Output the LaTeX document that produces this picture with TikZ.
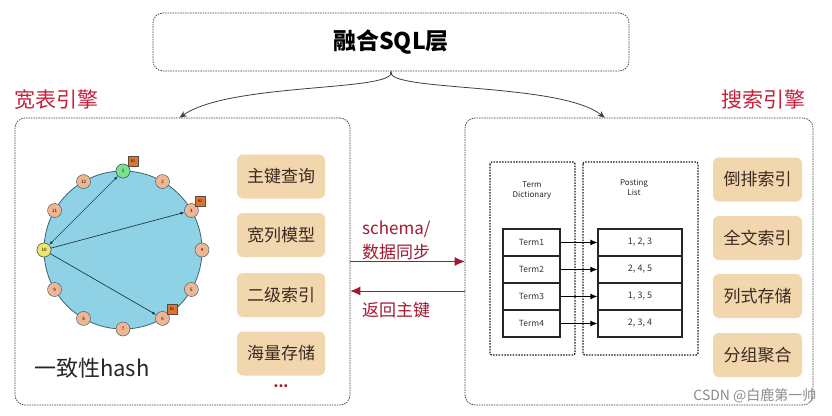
\documentclass[tikz,border=0pt]{standalone}
\usepackage{fontspec}
\setmainfont{Noto Sans CJK SC}
\usetikzlibrary{arrows.meta}
\definecolor{titlered}{HTML}{C8203C}
\definecolor{midred}{HTML}{A3182E}
\definecolor{btnfill}{HTML}{F2D6AE}
\definecolor{btntext}{HTML}{3A2A20}
\definecolor{ringfill}{HTML}{8FD2E6}
\definecolor{ringline}{HTML}{3E6470}
\definecolor{peach}{HTML}{F0B592}
\definecolor{greennode}{HTML}{7EE08E}
\definecolor{yellownode}{HTML}{F0E46A}
\definecolor{rorange}{HTML}{E2742E}
\definecolor{arrowdark}{HTML}{1F3A4D}
\tikzset{
  dbox/.style={draw=black!75, dash pattern=on 1.5pt off 1pt, rounded corners=10pt, line width=0.7pt},
  btn/.style={fill=btnfill, rounded corners=6pt, text=btntext, font=\fontsize{17}{20}\selectfont, minimum height=44pt, inner sep=0pt},
  hnode/.style={circle, draw=ringline, fill=peach, minimum size=14pt, inner sep=0pt, font=\fontsize{4.5}{5}\selectfont, line width=0.5pt},
  rbox/.style={draw=black!70, fill=rorange, minimum size=10pt, inner sep=0pt, font=\fontsize{3.5}{4}\selectfont, line width=0.4pt},
  dotbox/.style={draw=black!90, dash pattern=on 1.5pt off 1.3pt, line width=1.3pt, rounded corners=2pt},
  cell/.style={draw=black!85, line width=1.1pt, fill=white, minimum height=27pt, inner sep=0pt, font=\fontsize{8.5}{9}\selectfont, text=black!80},
  redtitle/.style={text=titlered, font=\fontsize{21}{24}\selectfont},
  midtext/.style={text=midred, font=\fontsize{17}{24}\selectfont, align=left, anchor=west, inner sep=0pt}
}
\begin{document}
\begin{tikzpicture}[x=1pt,y=-1pt]
\useasboundingbox (0,0) rectangle (832,415);
\fill[white] (0,0) rectangle (832,415);

% top layer
\node[dbox, minimum width=476pt, minimum height=58pt, font=\bfseries\fontsize{23}{26}\selectfont] (sql) at (391,42) {融合SQL层};

% engine boxes
\node[dbox, minimum width=335pt, minimum height=287pt] (wide) at (182.5,261.5) {};
\node[dbox, minimum width=348pt, minimum height=287pt] (search) at (639,261.5) {};

\coordinate (lt) at ([xshift=165pt]wide.north west);
\coordinate (rt) at ([xshift=140pt]search.north west);
\draw[black!75, line width=0.8pt, -{Stealth[length=7pt,width=6pt]}] (sql.south) .. controls (398,92) and (230,82) .. (lt);
\draw[black!75, line width=0.8pt, -{Stealth[length=7pt,width=6pt]}] (sql.south) .. controls (384,92) and (560,82) .. (rt);

% titles
\node[redtitle, anchor=west, inner sep=0pt] (wt) at (14,100) {宽表引擎};
\node[redtitle, anchor=east, inner sep=0pt] (st) at (806,100) {搜索引擎};

% consistent hash ring
\fill[ringfill, draw=ringline, line width=0.8pt] (123,250) circle[radius=79pt];
\foreach \i in {1,...,12} {
  \pgfmathsetmacro{\ang}{90-30*(\i-1)}
  \node[hnode] (h\i) at ({123+79*cos(\ang)},{250-79*sin(\ang)}) {\i};
}
\node[hnode, fill=greennode] at (h1) {1};
\node[hnode, fill=yellownode] at (h10) {10};
\node[rbox] (r1) at (133,161) {R1};
\node[rbox] (r2) at (200,201) {R2};
\node[rbox] (r3) at (172,309) {R3};
\draw[arrowdark, line width=0.7pt, {Latex[length=4pt,width=3pt]}-{Latex[length=4pt,width=3pt]}] (h10) -- (h1);
\draw[arrowdark, line width=0.7pt, -{Latex[length=4pt,width=3pt]}] (h10) -- (h3);
\draw[arrowdark, line width=0.7pt, -{Latex[length=4pt,width=3pt]}] (h10) -- (h6);
\node[anchor=west, inner sep=0pt, text=black!85, font=\fontsize{22}{26}\selectfont] (hashlbl) at (34,368) {一致性hash};

% left buttons
\node[btn, minimum width=88pt] (b1) at (281,176.5) {主键查询};
\node[btn, minimum width=88pt] (b2) at (281,235) {宽列模型};
\node[btn, minimum width=88pt] (b3) at (281,295) {二级索引};
\node[btn, minimum width=88pt] (b4) at (281,353.5) {海量存储};
\node[text=midred, font=\bfseries\fontsize{14}{14}\selectfont] (dots) at (281,386) {...};

% right buttons
\node[btn, minimum width=89pt] (c1) at (757.5,179.5) {倒排索引};
\node[btn, minimum width=89pt] (c2) at (757.5,238) {全文索引};
\node[btn, minimum width=89pt] (c3) at (757.5,296) {列式存储};
\node[btn, minimum width=89pt] (c4) at (757.5,355) {分组聚合};

% middle arrows
\draw[midred, line width=0.8pt, -{Latex[length=10pt,width=9pt]}] (wide.east) -- (search.west);
\draw[midred, line width=0.8pt, -{Latex[length=10pt,width=9pt]}] ([yshift=-29.5pt]search.west) -- ([yshift=-29.5pt]wide.west -| wide.east);
\node[midtext] (sync) at (362,240) {schema/\\数据同步};
\node[midtext] (ret) at (362,310) {返回主键};

% inverted index diagram
\draw[dotbox] (490,162) rectangle (575,355);
\draw[dotbox] (583,162) rectangle (698,355);
\node[align=center, font=\fontsize{8}{10}\selectfont, text=black!85] (tdl) at (532,191) {Term\\Dictionary};
\node[align=center, font=\fontsize{8}{10}\selectfont, text=black!85] (pll) at (634,187) {Posting\\List};
\foreach \i/\v in {1/{1,\ 2,\ 3},2/{2,\ 4,\ 5},3/{1,\ 3,\ 5},4/{2,\ 3,\ 4}} {
  \node[cell, minimum width=57pt] (t\i) at (531.5,{242.5+27*(\i-1)}) {Term\i};
  \node[cell, minimum width=84pt, font=\fontsize{9}{10}\selectfont] (p\i) at (640,{242.5+27*(\i-1)}) {\v};
  \draw[black, line width=1.1pt, -{Latex[length=7pt,width=6pt]}] (t\i.east) -- (p\i.west);
}

% watermark
\node[anchor=east, text=black!45, font=\fontsize{14}{16}\selectfont] (wm) at (820,396) {CSDN @白鹿第一帅};
\end{tikzpicture}
\end{document}
